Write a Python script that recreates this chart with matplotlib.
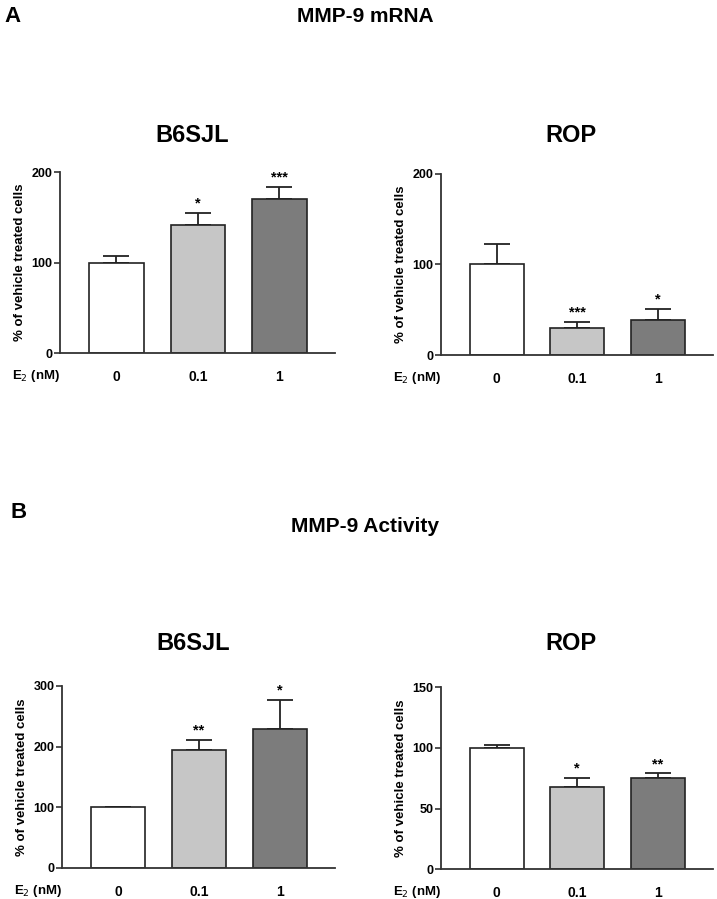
import matplotlib
matplotlib.use("Agg")
import matplotlib.pyplot as plt

plt.rcParams['font.family'] = ['Liberation Sans', 'DejaVu Sans']

# doses of E2 (nM)
doses = ["0", "0.1", "1"]

# panel A, MMP-9 mRNA (% of vehicle treated cells)
mrna_b6sjl = [100, 142, 170]
mrna_b6sjl_err = [7, 13, 14]
mrna_b6sjl_stars = ["", "*", "***"]
mrna_rop = [100, 30, 39]
mrna_rop_err = [22, 7, 12]
mrna_rop_stars = ["", "***", "*"]

# panel B, MMP-9 activity
act_b6sjl = [100, 195, 229]
act_b6sjl_err = [0, 16, 48]
act_b6sjl_stars = ["", "**", "*"]
act_rop = [100, 68, 75]
act_rop_err = [2.5, 7.5, 4]
act_rop_stars = ["", "*", "**"]

bar_colors = ["white", "#c6c6c6", "#7c7c7c"]
axis_col = "#333333"

fig = plt.figure(figsize=(7.17, 8.99), dpi=100)


def panel(rect, vals, errs, stars, ymax, yticks, name, name_y):
    ax = fig.add_axes(rect)
    x = range(len(vals))
    ax.bar(x, vals, width=0.67, color=bar_colors, edgecolor="#222222", linewidth=1.2, zorder=2)
    lower = [0] * len(errs)
    ax.errorbar(x, vals, yerr=[lower, errs], fmt="none", ecolor="#222222",
                elinewidth=1.3, capsize=9.5, capthick=1.3, zorder=1)
    for i, (v, e, s) in enumerate(zip(vals, errs, stars)):
        if s:
            ax.text(i, v + e + ymax * 0.012, s, ha="center", va="bottom",
                    fontsize=10.5, fontweight="bold")
    ax.set_xlim(-0.69, 2.68)
    ax.set_ylim(0, ymax)
    ax.set_yticks(yticks)
    ax.set_xticks(list(x))
    ax.set_xticklabels(doses)
    for sp in ["top", "right"]:
        ax.spines[sp].set_visible(False)
    for sp in ["left", "bottom"]:
        ax.spines[sp].set_color(axis_col)
        ax.spines[sp].set_linewidth(1.3)
    ax.tick_params(axis="x", length=0, pad=12, labelsize=10)
    ax.tick_params(axis="y", length=4, width=1.2, color=axis_col, pad=1.5, labelsize=9)
    for lab in ax.get_xticklabels() + ax.get_yticklabels():
        lab.set_fontweight("bold")
    ax.set_ylabel("% of vehicle treated cells", fontsize=9.5, fontweight="bold", labelpad=4)
    ax.text(0.0, -0.125, "E$_2$ (nM)", transform=ax.transAxes, ha="right", va="center",
            fontsize=9.5, fontweight="bold")
    cx = rect[0] + rect[2] * 0.48
    fig.text(cx, name_y, name, ha="center", va="center", fontsize=17, fontweight="bold")
    return ax


panel([0.0837, 0.6073, 0.3835, 0.2013], mrna_b6sjl, mrna_b6sjl_err, mrna_b6sjl_stars,
      200, [0, 100, 200], "B6SJL", 1 - 135 / 899)
panel([0.615, 0.605, 0.379, 0.202], mrna_rop, mrna_rop_err, mrna_rop_stars,
      200, [0, 100, 200], "ROP", 1 - 135 / 899)
panel([0.0865, 0.0345, 0.381, 0.2025], act_b6sjl, act_b6sjl_err, act_b6sjl_stars,
      300, [0, 100, 200, 300], "B6SJL", 1 - 643 / 899)
panel([0.615, 0.033, 0.379, 0.2025], act_rop, act_rop_err, act_rop_stars,
      150, [0, 50, 100, 150], "ROP", 1 - 643 / 899)

fig.text(0.006, 1 - 17 / 899, "A", ha="left", va="center", fontsize=16, fontweight="bold")
fig.text(0.509, 1 - 17 / 899, "MMP-9 mRNA", ha="center", va="center", fontsize=15, fontweight="bold")
fig.text(0.014, 1 - 513 / 899, "B", ha="left", va="center", fontsize=16, fontweight="bold")
fig.text(0.509, 1 - 526 / 899, "MMP-9 Activity", ha="center", va="center", fontsize=15, fontweight="bold")

fig.savefig("out.png", dpi=100, facecolor="white")
